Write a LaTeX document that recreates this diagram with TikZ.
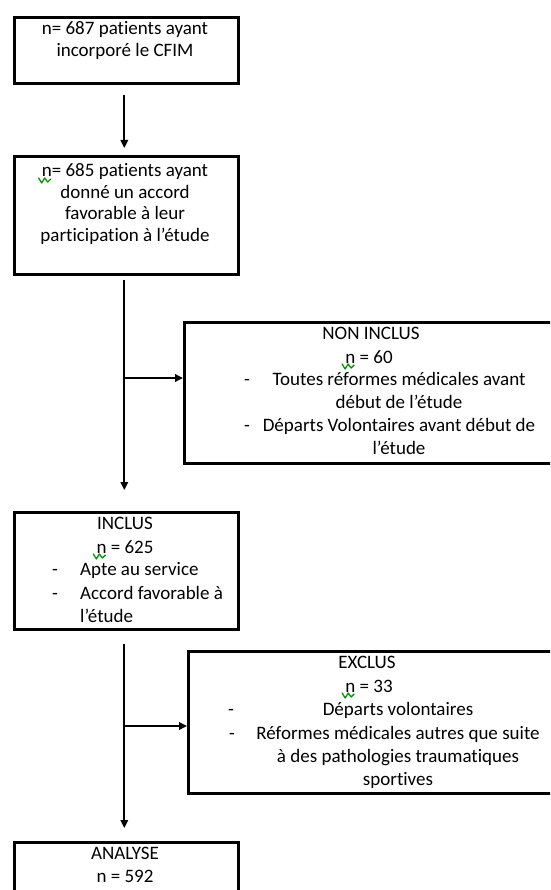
\documentclass[tikz,border=0pt]{standalone}
\usepackage{fontspec}
\setmainfont{Carlito}[Ligatures=NoCommon]
\usetikzlibrary{arrows.meta}
\tikzset{
  box/.style={draw=black, line width=2.6pt, anchor=north west, inner sep=0pt},
  txt/.style={font=\fontsize{19}{23}\selectfont, inner sep=0pt, anchor=base, text=black},
  txtl/.style={txt, anchor=base west},
  arr/.style={line width=1.8pt, -{Triangle[length=8pt,width=7.5pt]}},
  squig/.style={draw=green!60!black, line width=1.3pt, line join=round, line cap=round}
}
\begin{document}
\begin{tikzpicture}[x=1pt,y=-1pt]
\useasboundingbox (0,0) rectangle (550,890);
\fill[white] (0,0) rectangle (550,890);
\clip (0,0) rectangle (550,890);

% boxes
\node[box, minimum width=224pt, minimum height=66pt] (b1) at (13,16) {};
\node[box, minimum width=224pt, minimum height=118pt] (b2) at (13,155) {};
\node[box, minimum width=376pt, minimum height=141pt] (ni) at (183,321) {};
\node[box, minimum width=224pt, minimum height=117pt] (inc) at (13,511) {};
\node[box, minimum width=373pt, minimum height=142pt] (exc) at (187,650) {};
\node[box, minimum width=224pt, minimum height=80pt] (ana) at (13,841) {};

% box 1
\node[txt] (b1a) at (125,35) {n= 687 patients ayant};
\node[txt] (b1b) at (125,57) {incorporé le CFIM};

% box 2
\node[txt] (b2a) at (125,177) {n= 685 patients ayant};
\node[txt] (b2b) at (125,199) {donné un accord};
\node[txt] (b2c) at (125,220) {favorable à leur};
\node[txt] (b2d) at (125,242) {participation à l’étude};

% non inclus
\node[txt] (nia) at (371,339) {NON INCLUS};
\node[txt] (nib) at (369,363) {n = 60};
\node[txt] (nid1) at (247,385) {-};
\node[txt] (nic) at (399,385) {Toutes réformes médicales avant};
\node[txt] (nid) at (399,408) {début de l’étude};
\node[txt] (nid2) at (247,431) {-};
\node[txt] (nie) at (399,431) {Départs Volontaires avant début de};
\node[txt] (nif) at (399,454) {l’étude};

% inclus
\node[txt] (inca) at (125,529) {INCLUS};
\node[txt] (incb) at (125,553) {n = 625};
\node[txt] (incd1) at (55,575) {-};
\node[txtl] (incc) at (80,575) {Apte au service};
\node[txt] (incd2) at (55,599) {-};
\node[txtl] (incd) at (80,599) {Accord favorable à};
\node[txtl] (ince) at (80,622) {l’étude};

% exclus
\node[txt] (exa) at (367,668) {EXCLUS};
\node[txt] (exb) at (369,692) {n = 33};
\node[txt] (exd1) at (231,715) {-};
\node[txt] (exc1) at (398,715) {Départs volontaires};
\node[txt] (exd2) at (232,739) {-};
\node[txt] (exd) at (398,739) {Réformes médicales autres que suite};
\node[txt] (exe) at (398,762) {à des pathologies traumatiques};
\node[txt] (exf) at (398,785) {sportives};

% analyse
\node[txt] (anaa) at (125,859) {ANALYSE};
\node[txt] (anab) at (125,882) {n = 592};

% spelling squiggles
\foreach \n in {b2a, nib, incb, exb}{
  \draw[squig] ([xshift=-3pt,yshift=-1pt]\n.base west) -- ++(3,5) -- ++(3,-5) -- ++(3,4) -- ++(3,-3);
}

% connectors
\coordinate (j1) at (123,378);
\coordinate (j2) at (123,726);
\draw[arr, shorten <=10pt, shorten >=7pt] ([xshift=-2pt]b1.south) -- ([xshift=-2pt]b2.north);
\draw[arr, shorten <=4pt, shorten >=21pt] ([xshift=-2pt]b2.south) -- ([xshift=-2pt]inc.north);
\draw[arr] (j1) -- (j1 -| ni.west);
\draw[arr, shorten <=13pt, shorten >=13pt] ([xshift=-2pt]inc.south) -- ([xshift=-2pt]ana.north);
\draw[arr] (j2) -- (j2 -| exc.west);
\end{tikzpicture}
\end{document}
